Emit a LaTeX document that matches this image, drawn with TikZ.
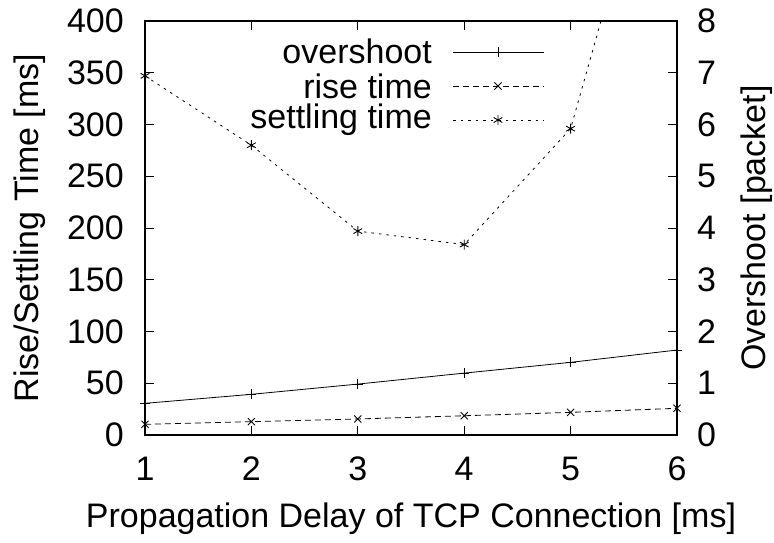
\documentclass[tikz,border=0pt]{standalone}
\usepackage{fontspec}
\setmainfont{Liberation Sans}
\usetikzlibrary{plotmarks}
\tikzset{
  lbl/.style={font=\fontsize{34}{40}\selectfont, inner sep=0pt},
  axisline/.style={line width=1.4pt},
  tickline/.style={line width=1pt},
  curve/.style={line width=0.8pt},
  overshootline/.style={curve, solid},
  riseline/.style={curve, dash pattern=on 6pt off 4pt},
  settleline/.style={curve, dash pattern=on 2.5pt off 5pt},
  mk/.style={line width=0.9pt, solid},
}
\begin{document}
\begin{tikzpicture}[x=1pt,y=-1pt]
\useasboundingbox (0,0) rectangle (774,542);
\fill[white] (0,0) rectangle (774,542);
\begin{scope}[x=106.4pt, y=1.035pt, shift={(38.6pt,-435pt)}]
  % ticks
  \foreach \v in {50,100,...,350} {
    \draw[tickline] (1,\v) -- ++(9pt,0);
    \draw[tickline] (6,\v) -- ++(-9pt,0);
  }
  \foreach \u in {2,3,4,5} {
    \draw[tickline] (\u,0) -- ++(0,9pt);
    \draw[tickline] (\u,400) -- ++(0,-9pt);
  }
  % frame
  \draw[axisline] (1,0) rectangle (6,400);
  % tick labels
  \foreach \v in {0,50,...,400} {
    \node[lbl, anchor=east] (yl\v) at ([xshift=-21pt]1,\v) {\v};
  }
  \foreach \w [evaluate=\w as \vv using int(\w*50)] in {0,...,8} {
    \node[lbl, anchor=west] (yr\w) at ([xshift=20pt]6,\vv) {\w};
  }
  \foreach \u in {1,...,6} {
    \node[lbl] (xl\u) at ([yshift=-34pt]\u,0) {\u};
  }
  % curves
  \begin{scope}
    \clip (1,0) rectangle (6,400);
    \draw[settleline] (1,347) -- (2,280) -- (3,197) -- (4,184) -- (5,296) -- (6,660);
  \end{scope}
  \draw[overshootline] (1,30.6) -- (2,39.3) -- (3,49.2) -- (4,59.8) -- (5,70.2) -- (6,82.1);
  \draw[riseline] (1,10.3) -- (2,12.9) -- (3,15.5) -- (4,18.6) -- (5,21.9) -- (6,25.8);
  \foreach \p in {(1,30.6),(2,39.3),(3,49.2),(4,59.8),(5,70.2),(6,82.1)}
    \draw[mk] plot[mark=+, mark size=5pt] coordinates {\p};
  \foreach \p in {(1,10.3),(2,12.9),(3,15.5),(4,18.6),(5,21.9),(6,25.8)}
    \draw[mk] plot[mark=x, mark size=5pt] coordinates {\p};
  \foreach \p in {(1,347),(2,280),(3,197),(4,184),(5,296)}
    \draw[mk] plot[mark=asterisk, mark size=5pt] coordinates {\p};
\end{scope}
% legend
\node[lbl, anchor=east] (leg1) at (432,51) {overshoot};
\node[lbl, anchor=east] (leg2) at (432,86) {rise time};
\node[lbl, anchor=east] (leg3) at (432,120) {settling time};
\coordinate (s1a) at (453,52); \coordinate (s1b) at (544,52);
\coordinate (s2a) at (453,86); \coordinate (s2b) at (544,86);
\coordinate (s3a) at (453,120); \coordinate (s3b) at (544,120);
\draw[overshootline] (s1a) -- (s1b);
\draw[riseline] (s2a) -- (s2b);
\draw[settleline] (s3a) -- (s3b);
\draw[mk] plot[mark=+, mark size=5pt] coordinates {(498,52)};
\draw[mk] plot[mark=x, mark size=5pt] coordinates {(498,86)};
\draw[mk] plot[mark=asterisk, mark size=5pt] coordinates {(498,120)};
% axis titles
\node[lbl] (xt) at (411,519) {Propagation Delay of TCP Connection [ms]};
\node[lbl, rotate=90] (ytl) at (30,228) {Rise/Settling Time [ms]};
\node[lbl, rotate=90] (ytr) at (757,228) {Overshoot [packet]};
\end{tikzpicture}
\end{document}
